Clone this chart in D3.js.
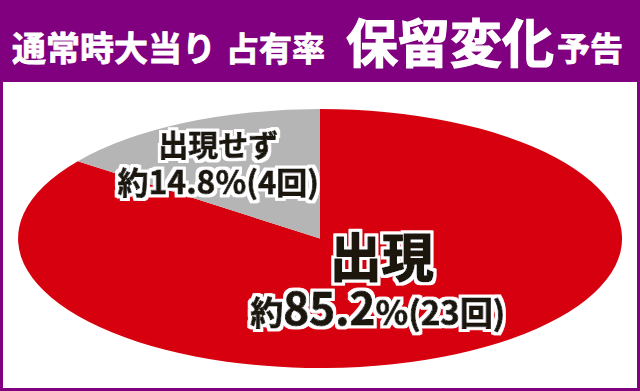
<!DOCTYPE html>
<html>
<head>
<meta charset="utf-8">
<script src="https://cdn.jsdelivr.net/npm/d3@7"></script>
<style>
  html, body { margin: 0; padding: 0; background: #fff; }
  svg { display: block; }
  text { font-family: "Noto Sans CJK JP", "Noto Sans", sans-serif; font-weight: bold; }
</style>
</head>
<body>
<svg id="chart"></svg>
<script>
// data
const categories = ['出現', '出現せず'];
const counts = [23, 4];
const percents = [85.2, 14.8];
const sliceColors = ['#d7000f', '#b5b5b6'];

const width = 640;
const height = 391;
const purple = '#800080';

const svg = d3.select('#chart')
  .attr('width', width)
  .attr('height', height);

// white outline around the labels
const halo = svg.append('defs').append('filter')
  .attr('id', 'halo')
  .attr('x', '-20%').attr('y', '-40%')
  .attr('width', '140%').attr('height', '180%');
halo.append('feMorphology')
  .attr('in', 'SourceAlpha').attr('operator', 'dilate').attr('radius', 3.2)
  .attr('result', 'grown');
halo.append('feFlood').attr('flood-color', '#fff');
halo.append('feComposite').attr('in2', 'grown').attr('operator', 'in').attr('result', 'outline');
const merge = halo.append('feMerge');
merge.append('feMergeNode').attr('in', 'outline');
merge.append('feMergeNode').attr('in', 'SourceGraphic');

// frame + header
svg.append('rect')
  .attr('width', width).attr('height', height)
  .attr('fill', purple);

svg.append('rect')
  .attr('x', 3).attr('y', 82)
  .attr('width', 634).attr('height', 306)
  .attr('fill', '#fff');

const title = svg.append('g')
  .attr('fill', '#fff')
  .attr('stroke', '#fff')
  .attr('stroke-width', 0.8);
title.append('text').attr('x', 12).attr('y', 61)
  .style('font-size', '34px')
  .text('通常時大当り');
title.append('text').attr('x', 226).attr('y', 61)
  .style('font-size', '33px')
  .text('占有率');
title.append('text').attr('x', 346).attr('y', 63)
  .style('font-size', '52px')
  .attr('stroke-width', 1.2)
  .text('保留変化');
title.append('text').attr('x', 557).attr('y', 61)
  .style('font-size', '33px')
  .text('予告');

// flattened pie
const cx = 320, cy = 238.5, rx = 302, ry = 129.5;

const pie = d3.pie().sort(null).value(d => d);
const arcs = pie(counts);

const arc = d3.arc().innerRadius(0).outerRadius(1);

const g = svg.append('g')
  .attr('transform', 'translate(' + cx + ',' + cy + ')');

g.append('g')
  .attr('transform', 'scale(' + rx + ',' + ry + ')')
  .selectAll('path')
  .data(arcs)
  .enter()
  .append('path')
  .attr('d', arc)
  .attr('fill', (d, i) => sliceColors[i]);

// labels, placed from each slice centroid
function labelPos(i) {
  const c = arc.centroid(arcs[i]);
  return [c[0] * rx, c[1] * ry];
}

function label(x, y, parts, thick) {
  const t = g.append('text')
    .attr('x', x).attr('y', y)
    .attr('text-anchor', 'middle')
    .attr('fill', '#1a1311')
    .attr('stroke', '#1a1311')
    .attr('stroke-width', thick)
    .attr('stroke-linejoin', 'round')
    .attr('filter', 'url(#halo)');
  parts.forEach(p => {
    t.append('tspan').style('font-size', p[1] + 'px').text(p[0]);
  });
}

// grey slice
const p1 = labelPos(1);
label(p1[0] - 34, p1[1] - 25, [[categories[1], 30]], 0.9);
label(p1[0] - 34, p1[1] + 13,
  [['約', 31], [percents[1] + '%', 32], ['(' + counts[1] + '回)', 31]], 0.9);

// red slice
const p0 = labelPos(0);
label(p0[0] - 6, p0[1] - 19, [[categories[0], 52]], 1.6);
label(p0[0] - 10, p0[1] + 29,
  [['約', 33], [String(percents[0]), 44], ['%', 34], ['(' + counts[0] + '回)', 33]], 1.0);
</script>
</body>
</html>
